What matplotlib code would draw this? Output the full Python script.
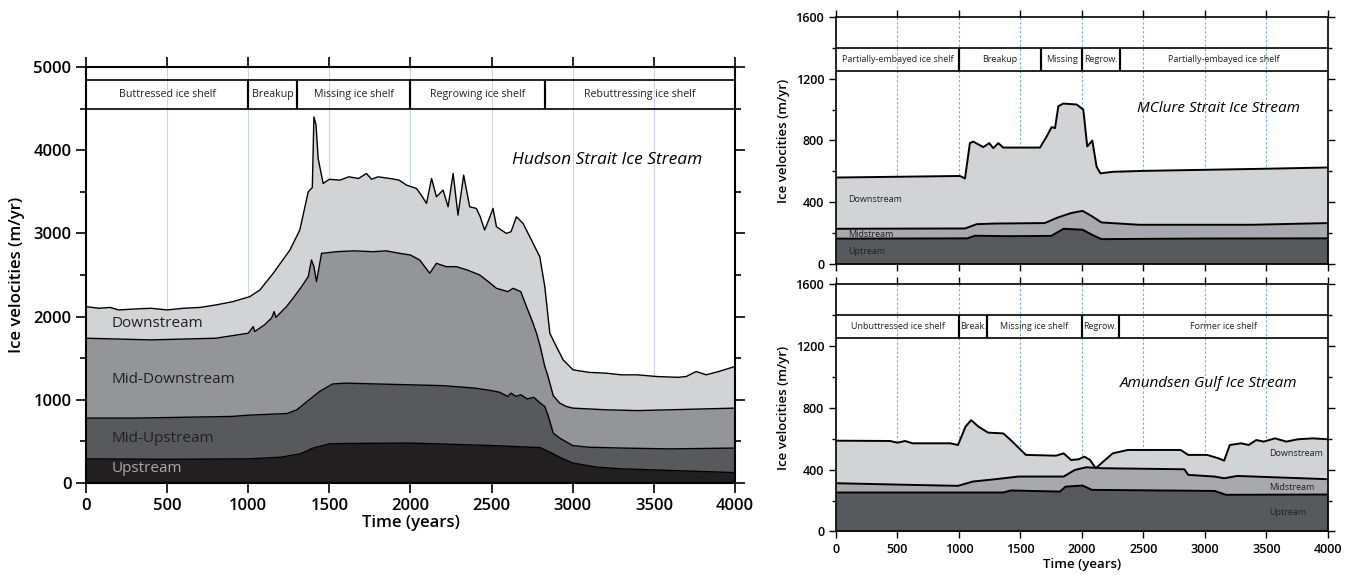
import matplotlib
matplotlib.use('Agg')
import matplotlib.pyplot as plt
from matplotlib.ticker import MultipleLocator

plt.rcParams['font.family'] = ['Open Sans', 'DejaVu Sans']

# ---- Hudson Strait Ice Stream (left panel), boundary lines as drawn ----
hs_down_t = [0, 80, 150, 200, 290, 400, 500, 600, 703, 800, 906, 1010, 1072, 1154, 1257, 1318,
             1370, 1395, 1405, 1418, 1431, 1462, 1500, 1565, 1620, 1680, 1729, 1760, 1800, 1873,
             1930, 1976, 2037, 2070, 2099, 2130, 2160, 2201, 2232, 2263, 2293, 2328, 2365, 2406,
             2430, 2457, 2480, 2509, 2530, 2591, 2620, 2653, 2694, 2756, 2797, 2828, 2859, 2889,
             2941, 3002, 3100, 3207, 3300, 3400, 3515, 3650, 3700, 3761, 3823, 3900, 4000]
hs_down_v = [2120, 2100, 2110, 2080, 2090, 2100, 2080, 2100, 2110, 2140, 2180, 2240, 2320, 2520, 2800, 3040,
             3500, 3550, 4400, 4300, 3900, 3600, 3650, 3640, 3680, 3660, 3720, 3650, 3680, 3660,
             3640, 3580, 3540, 3450, 3360, 3660, 3440, 3520, 3320, 3720, 3220, 3700, 3320, 3300,
             3200, 3040, 3150, 3300, 3080, 3000, 3020, 3200, 3120, 2880, 2720, 2360, 1800, 1680,
             1480, 1360, 1330, 1320, 1300, 1300, 1280, 1270, 1280, 1340, 1300, 1340, 1400]

hs_mdown_t = [0, 200, 400, 600, 800, 900, 1000, 1031, 1040, 1100, 1144, 1160, 1170, 1236, 1280, 1329,
              1370, 1390, 1405, 1421, 1452, 1500, 1544, 1650, 1770, 1850, 1934, 2000, 2057, 2119,
              2160, 2220, 2283, 2350, 2427, 2480, 2530, 2600, 2633, 2680, 2715, 2750, 2777, 2800,
              2828, 2845, 2859, 2880, 2920, 2960, 3001, 3200, 3400, 3600, 3800, 4000]
hs_mdown_v = [1740, 1730, 1720, 1730, 1740, 1770, 1800, 1880, 1820, 1900, 1983, 2060, 1990, 2120, 2230, 2360,
              2480, 2680, 2600, 2420, 2760, 2770, 2780, 2790, 2780, 2790, 2760, 2740, 2680, 2520,
              2640, 2600, 2600, 2560, 2500, 2420, 2340, 2300, 2340, 2300, 2120, 1950, 1800, 1640,
              1400, 1300, 1200, 1050, 960, 920, 900, 880, 870, 880, 890, 900]

hs_mup_t = [0, 300, 600, 900, 1000, 1240, 1300, 1360, 1440, 1520, 1600, 1800, 2000, 2200, 2400,
            2500, 2550, 2600, 2620, 2650, 2680, 2720, 2760, 2800, 2828, 2850, 2880, 2920, 3000,
            3100, 3300, 3600, 4000]
hs_mup_v = [780, 780, 790, 800, 815, 835, 880, 975, 1100, 1190, 1200, 1190, 1180, 1170, 1140,
            1110, 1090, 1040, 1080, 1040, 1060, 1010, 1030, 960, 920, 800, 600, 540, 450,
            430, 420, 410, 420]

hs_up_t = [0, 500, 1000, 1200, 1320, 1400, 1500, 1600, 2000, 2500, 2800, 2860, 2930, 3000, 3150, 3300, 4000]
hs_up_v = [290, 285, 290, 310, 350, 420, 470, 475, 480, 450, 425, 370, 300, 240, 190, 170, 125]

hs_phases = ['Buttressed ice shelf', 'Breakup', 'Missing ice shelf', 'Regrowing ice shelf',
             'Rebuttressing ice shelf']
hs_phase_edges = [0, 1000, 1300, 2000, 2830, 4000]

# ---- MClure Strait Ice Stream (upper right) ----
mc_down_t = [0, 1008, 1049, 1089, 1116, 1198, 1246, 1279, 1320, 1360, 1659, 1713, 1754, 1781, 1808,
             1849, 1957, 2011, 2043, 2084, 2119, 2150, 2250, 2500, 3000, 3500, 4000]
mc_down_v = [560, 570, 554, 783, 793, 757, 783, 750, 783, 754, 754, 826, 887, 880, 1022,
             1039, 1033, 1000, 761, 800, 630, 587, 597, 603, 610, 617, 625]

mc_mid_t = [0, 1050, 1145, 1300, 1698, 1800, 1912, 2005, 2080, 2158, 2465, 3000, 3386, 4000]
mc_mid_v = [228, 230, 258, 262, 265, 300, 330, 344, 310, 269, 254, 254, 254, 265]

mc_up_t = [0, 1068, 1130, 1400, 1750, 1851, 2005, 2080, 2158, 3000, 4000]
mc_up_v = [164, 166, 183, 180, 182, 228, 222, 190, 161, 165, 166]

mc_phases = ['Partially-embayed ice shelf', 'Breakup', 'Missing', 'Regrow.',
             'Partially-embayed ice shelf']
mc_phase_edges = [0, 1000, 1670, 2000, 2310, 4000]

# ---- Amundsen Gulf Ice Stream (lower right) ----
ag_down_t = [0, 439, 500, 562, 623, 930, 992, 1053, 1099, 1160, 1237, 1360, 1421, 1544, 1790,
             1851, 1912, 1974, 2020, 2066, 2112, 2158, 2250, 2373, 2465, 2803, 2864, 3018, 3110,
             3156, 3202, 3294, 3356, 3417, 3478, 3570, 3662, 3754, 3877, 4000]
ag_down_v = [587, 585, 574, 585, 570, 570, 559, 677, 720, 677, 639, 634, 591, 495, 490,
             505, 462, 467, 484, 462, 409, 441, 505, 527, 527, 527, 495, 495, 473,
             458, 559, 570, 559, 591, 581, 602, 581, 596, 602, 596]

ag_mid_t = [0, 623, 992, 1114, 1298, 1483, 1851, 1943, 2035, 2158, 2833, 2864, 3079, 3156, 3264, 3540, 4000]
ag_mid_v = [312, 301, 295, 323, 338, 355, 355, 398, 415, 409, 402, 366, 355, 344, 359, 351, 338]

ag_up_t = [0, 1360, 1421, 1821, 1867, 2005, 2081, 3079, 3171, 4000]
ag_up_v = [252, 252, 265, 258, 290, 297, 269, 262, 237, 239]

ag_phases = ['Unbuttressed ice shelf', 'Break.', 'Missing ice shelf', 'Regrow.', 'Former ice shelf']
ag_phase_edges = [0, 1000, 1230, 2000, 2300, 4000]


def draw_band(ax, edges, names, lo, hi, fs, lw):
    ax.hlines([lo, hi], 0, 4000, color='black', lw=lw, zorder=5)
    ax.vlines(edges[1:-1], lo, hi, color='black', lw=lw * 1.3, zorder=5)
    for i, name in enumerate(names):
        ax.text((edges[i] + edges[i + 1]) / 2, (lo + hi) / 2, name, ha='center', va='center',
                fontsize=fs, color='#231f20', zorder=6)


def draw_layers(ax, layers, lw):
    for t, v, col in layers:
        ax.fill_between(t, 0, v, color=col, lw=0, zorder=2)
        ax.plot(t, v, color='black', lw=lw, zorder=3)


fig = plt.figure(figsize=(13.56, 5.75), dpi=100)

# left panel
ax = fig.add_axes([0.0634, 0.16, 0.4786, 0.7235])
for x in range(500, 4000, 500):
    ax.axvline(x, color='#c5d9ec', lw=0.8, zorder=1)
draw_layers(ax, [(hs_down_t, hs_down_v, '#d1d3d4'),
                 (hs_mdown_t, hs_mdown_v, '#939598'),
                 (hs_mup_t, hs_mup_v, '#58595b'),
                 (hs_up_t, hs_up_v, '#231f20')], 1.0)
draw_band(ax, hs_phase_edges, hs_phases, 4500, 4840, 7.7, 1.2)
ax.set_xlim(0, 4000)
ax.set_ylim(0, 5000)
ax.xaxis.set_major_locator(MultipleLocator(500))
ax.yaxis.set_major_locator(MultipleLocator(1000))
ax.yaxis.set_minor_locator(MultipleLocator(500))
ax.tick_params(which='both', direction='out', top=True, right=True, labelsize=12, width=1.2)
ax.tick_params(which='major', length=7)
ax.tick_params(which='minor', length=4)
for lbl in ax.get_xticklabels() + ax.get_yticklabels():
    lbl.set_fontweight('semibold')
for s in ax.spines.values():
    s.set_linewidth(1.5)
ax.set_xlabel('Time (years)', fontsize=12, fontweight='semibold', labelpad=1)
ax.set_ylabel('Ice velocities (m/yr)', fontsize=12, fontweight='semibold', labelpad=6)
ax.text(2625, 3880, 'Hudson Strait Ice Stream', fontsize=12.5, style='italic', va='center', zorder=6)
ax.text(160, 1920, 'Downstream', fontsize=11, va='center', color='#231f20', zorder=6)
ax.text(160, 1240, 'Mid-Downstream', fontsize=11, va='center', color='#231f20', zorder=6)
ax.text(160, 540, 'Mid-Upstream', fontsize=11, va='center', color='#231f20', zorder=6)
ax.text(160, 170, 'Upstream', fontsize=11, va='center', color='#a7a9ac', zorder=6)

# right panels
panels = [
    ([0.6165, 0.5409, 0.3628, 0.4296], 'MClure Strait Ice Stream', (2447, 1010),
     [(mc_down_t, mc_down_v, '#d1d3d4'), (mc_mid_t, mc_mid_v, '#a7a9ac'), (mc_up_t, mc_up_v, '#58595b')],
     mc_phase_edges, mc_phases,
     [('Downstream', 100, 420), ('Midstream', 100, 194), ('Uptream', 100, 80)], False),
    ([0.6165, 0.0757, 0.3628, 0.4304], 'Amundsen Gulf Ice Stream', (2309, 957),
     [(ag_down_t, ag_down_v, '#d1d3d4'), (ag_mid_t, ag_mid_v, '#a7a9ac'), (ag_up_t, ag_up_v, '#58595b')],
     ag_phase_edges, ag_phases,
     [('Downstream', 3520, 505), ('Midstream', 3520, 284), ('Uptream', 3520, 122)], True),
]
for rect, title, tpos, layers, edges, names, labels, show_x in panels:
    ax = fig.add_axes(rect)
    for x in range(500, 4000, 500):
        ax.axvline(x, color='#6fa8dc', lw=0.8, ls=(0, (2, 2)), zorder=1)
    draw_layers(ax, layers, 1.4)
    draw_band(ax, edges, names, 1250, 1400, 6.5, 1.2)
    ax.set_xlim(0, 4000)
    ax.set_ylim(0, 1600)
    ax.xaxis.set_major_locator(MultipleLocator(500))
    ax.yaxis.set_major_locator(MultipleLocator(400))
    ax.yaxis.set_minor_locator(MultipleLocator(200))
    ax.tick_params(which='both', direction='out', top=True, right=True, labelsize=9, width=1.0)
    ax.tick_params(which='major', length=5)
    ax.tick_params(which='minor', length=3)
    for lbl in ax.get_xticklabels() + ax.get_yticklabels():
        lbl.set_fontweight('semibold')
    for s in ax.spines.values():
        s.set_linewidth(1.2)
    if show_x:
        ax.set_xlabel('Time (years)', fontsize=9.5, fontweight='semibold', labelpad=1)
    else:
        ax.tick_params(axis='x', labelbottom=False)
    ax.set_ylabel('Ice velocities (m/yr)', fontsize=9.5, fontweight='semibold', labelpad=4)
    ax.text(tpos[0], tpos[1], title, fontsize=11, style='italic', va='center', zorder=6)
    for txt, lx, ly in labels:
        ax.text(lx, ly, txt, fontsize=6.5, va='center', color='#231f20', zorder=6)

fig.savefig('out.png', dpi=100)
